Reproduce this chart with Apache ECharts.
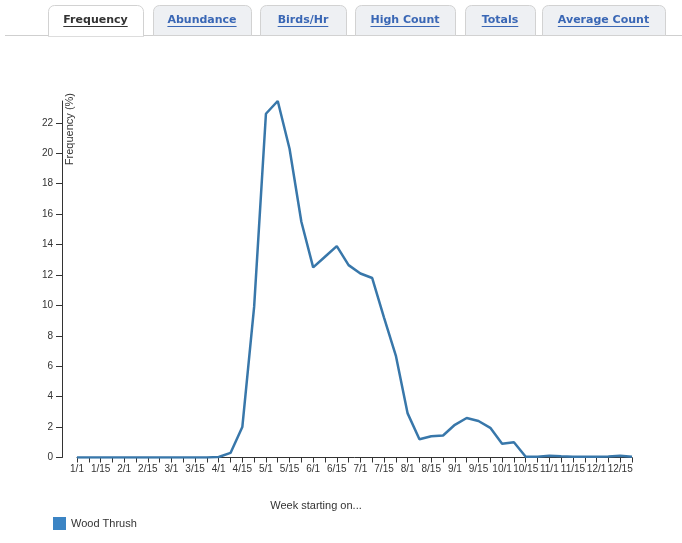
<!DOCTYPE html>
<html>
<head>
<meta charset="utf-8">
<script src="https://cdn.jsdelivr.net/npm/echarts@6/dist/echarts.min.js"></script>
<style>
html,body{margin:0;padding:0;background:#fff;}
#chart{width:682px;height:543px;}
</style>
</head>
<body>
<div id="chart"></div>
<script>
var weeks = ["1/1","1/8","1/15","1/22","2/1","2/8","2/15","2/22","3/1","3/8","3/15","3/22",
  "4/1","4/8","4/15","4/22","5/1","5/8","5/15","5/22","6/1","6/8","6/15","6/22",
  "7/1","7/8","7/15","7/22","8/1","8/8","8/15","8/22","9/1","9/8","9/15","9/22",
  "10/1","10/8","10/15","10/22","11/1","11/8","11/15","11/22","12/1","12/8","12/15","12/22"];
var woodThrush = [0,0,0,0,0,0,0,0,0,0,0,0,
  0.03,0.3,2.0,9.9,22.6,23.44,20.3,15.5,12.5,13.2,13.9,12.65,
  12.1,11.8,9.2,6.7,2.9,1.2,1.4,1.45,2.15,2.6,2.4,1.95,
  0.9,1.0,0.05,0.05,0.12,0.08,0.05,0.05,0.05,0.06,0.12,0.05];
var yTicks = [0,2,4,6,8,10,12,14,16,18,20,22];
var tabNames = ["Frequency","Abundance","Birds/Hr","High Count","Totals","Average Count"];
var seriesName = "Wood Thrush";

var tabBoxes = [[48,143],[153,251],[260,346],[355,455],[465,535],[542,665]];
var tabTop = 5, tabBottom = 35;
var cv = document.createElement('canvas').getContext('2d');
cv.font = 'bold 11px "DejaVu Sans"';

var graphics = [];
graphics.push({type:'line', shape:{x1:5,y1:tabBottom+0.5,x2:tabBoxes[0][0],y2:tabBottom+0.5}, style:{stroke:'#cfcfcf',lineWidth:1}});
graphics.push({type:'line', shape:{x1:tabBoxes[0][1],y1:tabBottom+0.5,x2:682,y2:tabBottom+0.5}, style:{stroke:'#cfcfcf',lineWidth:1}});
tabNames.forEach(function(name,i){
  var b = tabBoxes[i];
  var active = i === 0;
  graphics.push({type:'rect', shape:{x:b[0]+0.5,y:tabTop+0.5,width:b[1]-b[0],height:tabBottom-tabTop + (active?1:0),r:[6,6,0,0]},
    style:{fill: active?'#ffffff':'#eef0f3', stroke:'#d2d2d2', lineWidth:1}, z:1});
  if (active) {
    graphics.push({type:'line', shape:{x1:b[0]+1,y1:tabBottom+0.5,x2:b[1],y2:tabBottom+0.5}, style:{stroke:'#ffffff',lineWidth:1.5}, z:2});
  }
  var cx = (b[0]+b[1])/2;
  var col = active ? '#333333' : '#3a67b5';
  graphics.push({type:'text', x:cx, y:20, z:3, style:{text:name, fill:col, font:'bold 11px "DejaVu Sans"', align:'center', verticalAlign:'middle'}});
  var w = cv.measureText(name).width;
  graphics.push({type:'line', z:3, shape:{x1:cx-w/2,y1:26.5,x2:cx+w/2,y2:26.5}, style:{stroke:col,lineWidth:1}});
});
graphics.push({type:'text', x:70, y:93, rotation:Math.PI/2, style:{text:'Frequency (%)', fill:'#333', font:'11px "Liberation Sans"', align:'right', verticalAlign:'middle'}});
graphics.push({type:'text', x:316, y:506, style:{text:'Week starting on...', fill:'#333', font:'11px "Liberation Sans"', align:'center', verticalAlign:'middle'}});

var chart = echarts.init(document.getElementById('chart'), null, {renderer:'canvas'});
var maxVal = Math.max.apply(null, woodThrush);
chart.setOption({
  animation:false,
  grid:{left:77, right:50, top:101, bottom:85.5, containLabel:false},
  legend:{
    left:48, top:512, icon:'rect', itemWidth:13, itemHeight:13, itemGap:8,
    textStyle:{fontFamily:'Liberation Sans', fontSize:11, color:'#333'},
    data:[{name:seriesName, itemStyle:{color:'#3b84c4'}}]
  },
  xAxis:{
    type:'category', data:weeks, boundaryGap:false,
    axisLine:{lineStyle:{color:'#333', width:1}},
    axisTick:{show:true, interval:0, length:5, lineStyle:{color:'#333'}},
    axisLabel:{interval:1, fontFamily:'Liberation Sans', fontSize:10, color:'#333', margin:7},
    splitLine:{show:false}
  },
  yAxis:{
    type:'value', min:0, max:maxVal, offset:15,
    axisLine:{show:true, lineStyle:{color:'#333', width:1}},
    axisTick:{show:true, length:6, lineStyle:{color:'#333'}, customValues:yTicks},
    axisLabel:{fontFamily:'Liberation Sans', fontSize:10, color:'#333', margin:9, customValues:yTicks},
    splitLine:{show:false}
  },
  series:[{
    name:seriesName, type:'line', data:woodThrush, showSymbol:false, symbol:'none',
    lineStyle:{color:'#3877aa', width:2.5}, itemStyle:{color:'#3877aa'}, z:5
  }],
  graphic:graphics
});
</script>
</body>
</html>
